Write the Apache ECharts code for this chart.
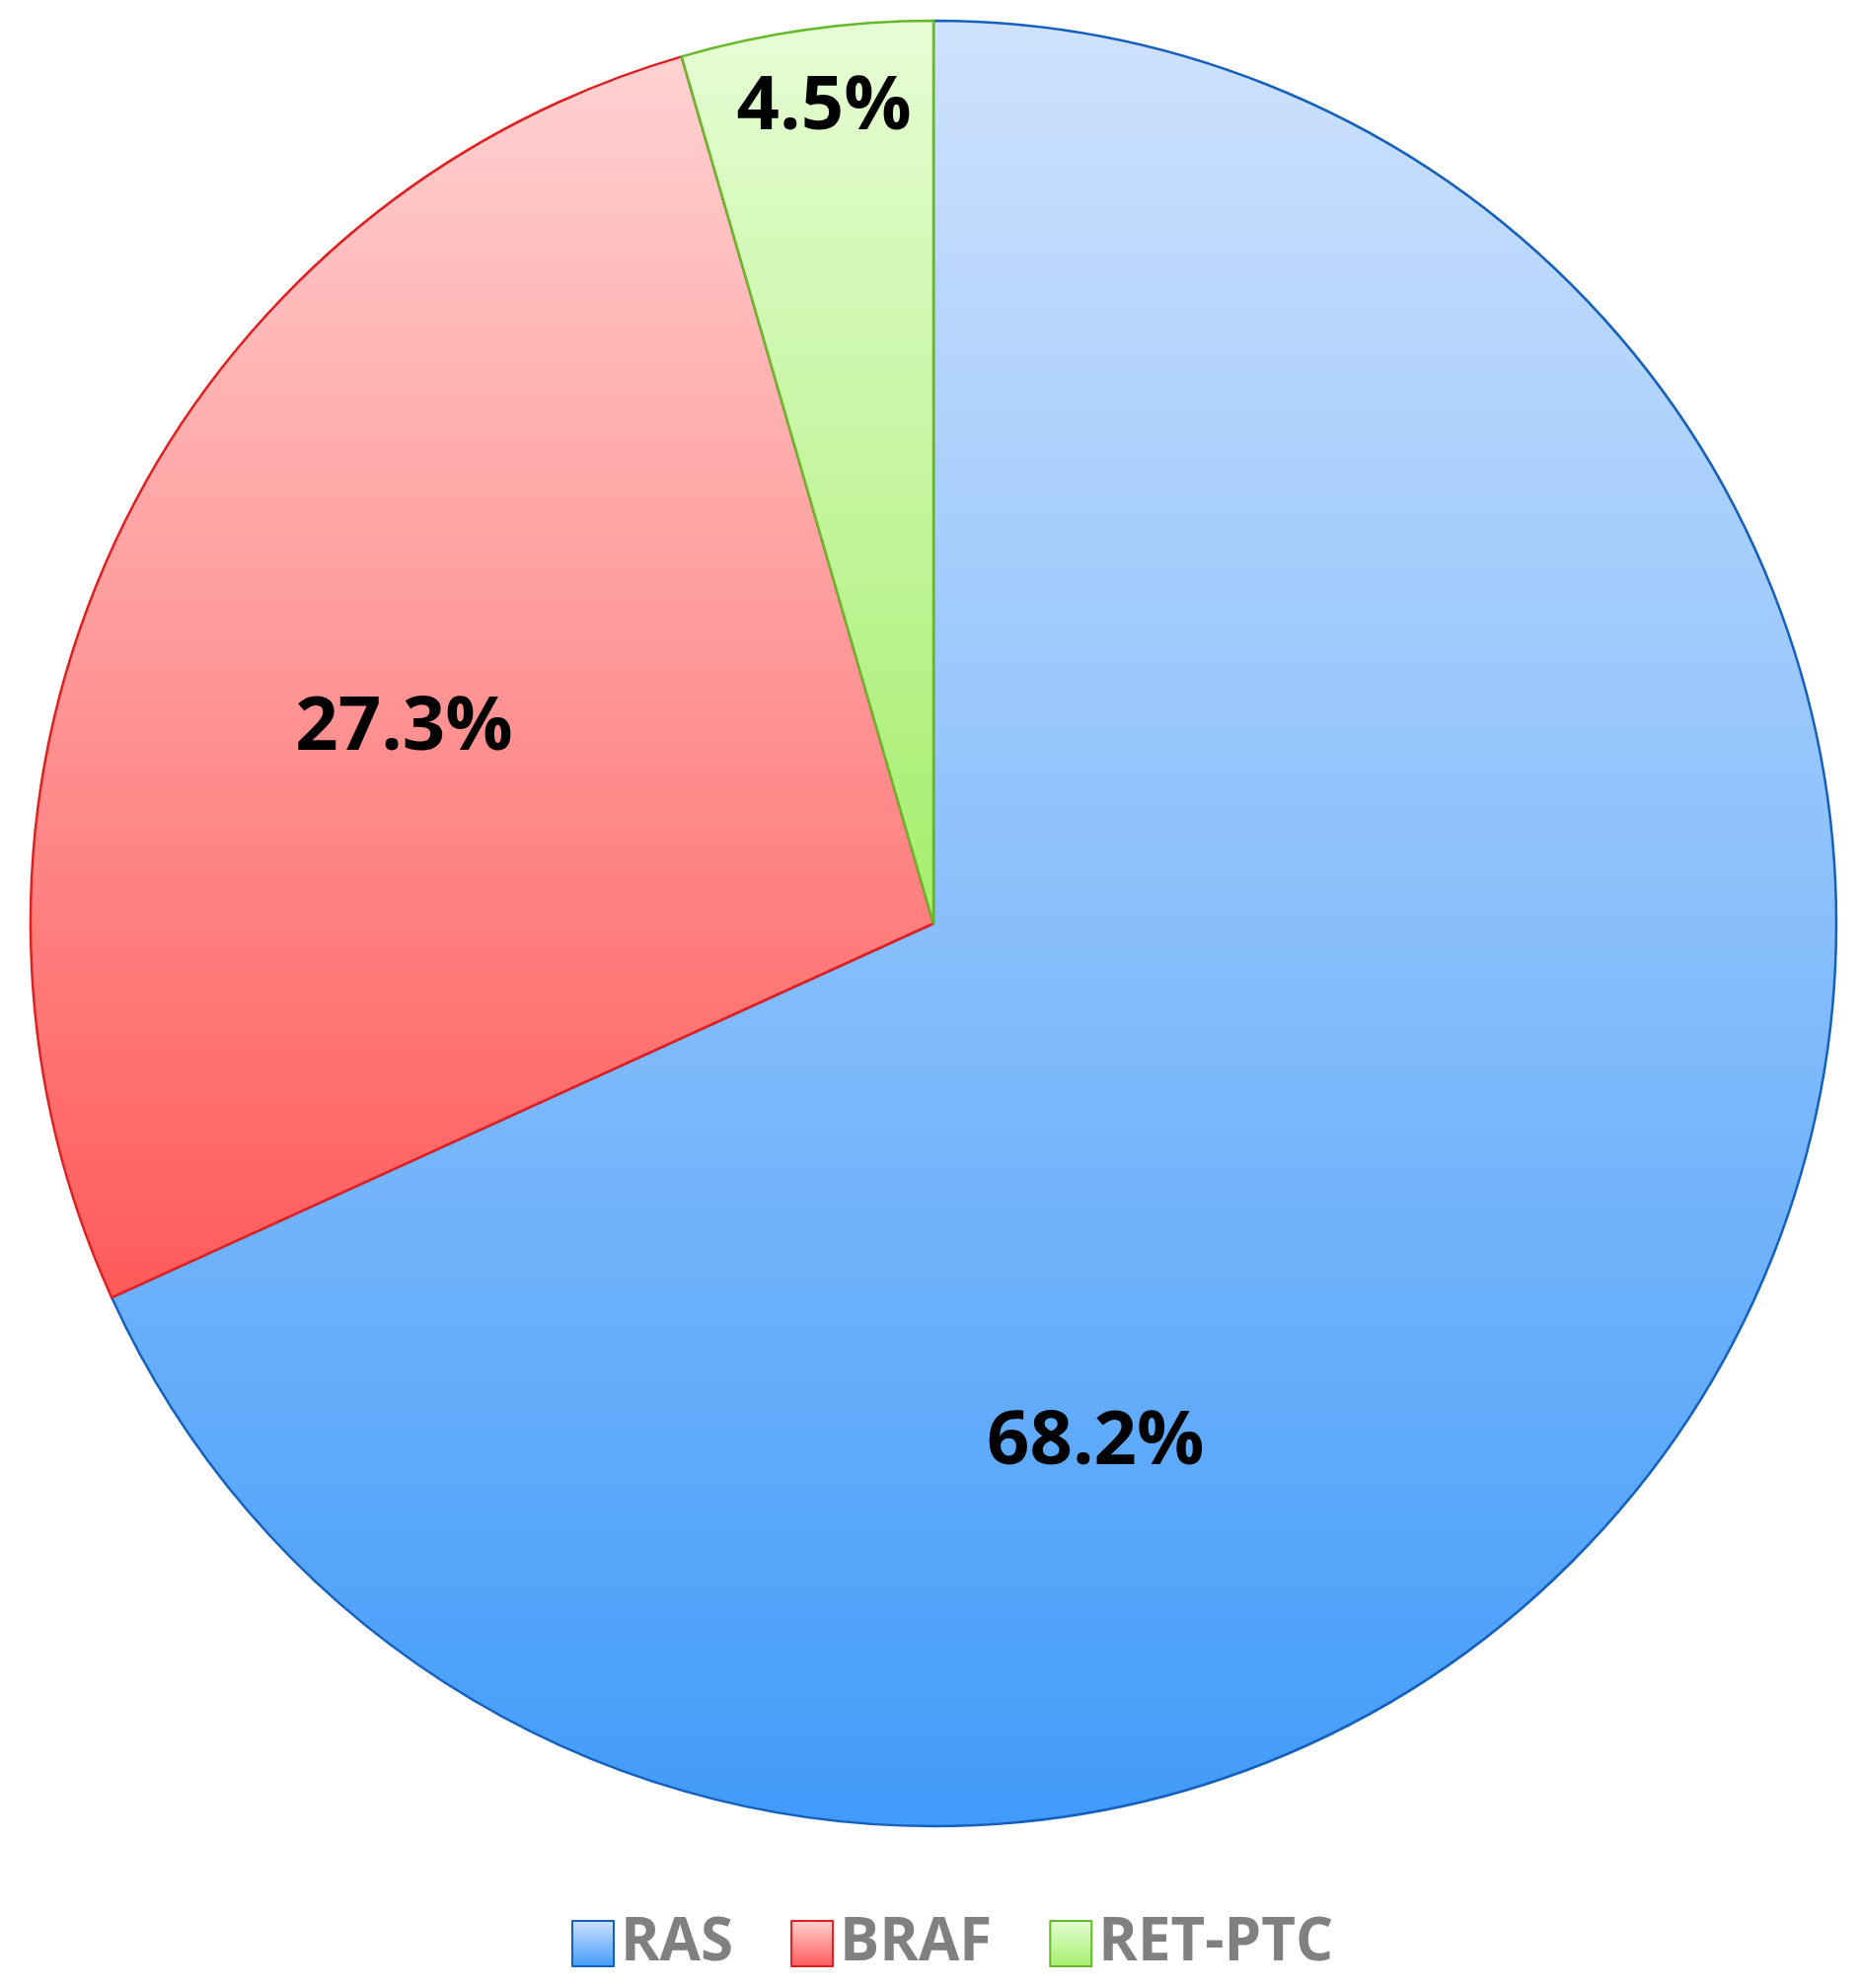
<!DOCTYPE html>
<html>
<head>
<meta charset="utf-8">
<script src="https://cdn.jsdelivr.net/npm/echarts@6/dist/echarts.min.js"></script>
<style>
html,body{margin:0;padding:0;background:#fff;}
#chart{width:1884px;height:2015px;}
</style>
</head>
<body>
<div id="chart"></div>
<script>
const categories = ['RAS', 'BRAF', 'RET-PTC'];
const shares = [68.2, 27.3, 4.5];

const topColors = ['#cfe2fd', '#ffd2d2', '#e6fdd5'];
const bottomColors = ['#419bf9', '#ff5a5a', '#a5ee6c'];
const borderColors = ['#1560bd', '#e02020', '#66b82a'];
const labelOffsets = [[-223, 277], [-118, -6], [-46, -371]];

const chart = echarts.init(document.getElementById('chart'));
const data = categories.map((name, i) => ({
  name: name,
  value: shares[i],
  itemStyle: {
    color: new echarts.graphic.LinearGradient(0, 0, 0, 1, [
      { offset: 0, color: topColors[i] },
      { offset: 1, color: bottomColors[i] }
    ]),
    borderColor: borderColors[i],
    borderWidth: 2.5
  },
  label: { offset: labelOffsets[i] }
}));

chart.setOption({
  animation: false,
  backgroundColor: '#ffffff',
  legend: {
    data: categories,
    left: 574,
    top: 1935,
    itemWidth: 42,
    itemHeight: 46,
    itemGap: 58,
    icon: 'rect',
    textStyle: {
      fontFamily: 'Open Sans',
      fontWeight: 'bold',
      fontSize: 60,
      color: '#808080',
      padding: [0, 0, 0, 2]
    }
  },
  series: [{
    type: 'pie',
    center: [946, 936],
    radius: [0, 915],
    startAngle: 90,
    clockwise: true,
    avoidLabelOverlap: false,
    label: {
      show: true,
      position: 'inside',
      formatter: p => p.value.toFixed(1) + '%',
      fontFamily: 'Open Sans',
      fontWeight: 'bold',
      fontSize: 76,
      color: '#000000'
    },
    labelLine: { show: false },
    emphasis: { disabled: true },
    data: data
  }]
});
</script>
</body>
</html>
